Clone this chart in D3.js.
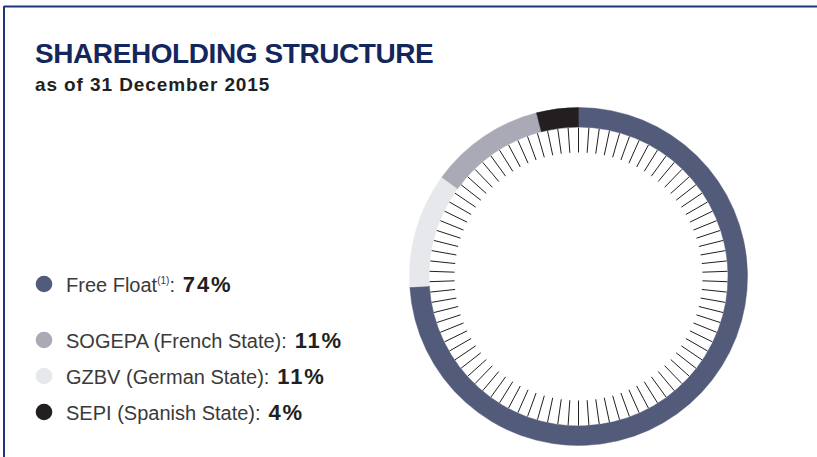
<!DOCTYPE html>
<html>
<head>
<meta charset="utf-8">
<script src="https://cdn.jsdelivr.net/npm/d3@7"></script>
<style>
  body { margin: 0; background: #fff; }
  svg { display: block; }
</style>
</head>
<body>
<div class="chartDiv"></div>
<script>

// ---- data ----
let names = ["Free Float", "SOGEPA (French State)", "GZBV (German State)", "SEPI (Spanish State)"];
let shares = [74, 11, 11, 4];
let notes = ["(1)", "", "", ""];
let colors = ["#535b7b", "#aaaab6", "#e6e8eb", "#231f20"];
// clockwise order on the ring, starting at 12 o'clock
let ringOrder = ["Free Float", "GZBV (German State)", "SOGEPA (French State)", "SEPI (Spanish State)"];
let tickCount = 90;

let width = 817, height = 457;
let cx = 578.5, cy = 276.5;
let outerR = 169, innerR = 149.5;
let tickOuter = 149, tickInner = 124;

let svg = d3.select(".chartDiv").append("svg")
    .attr("width", width)
    .attr("height", height);

// frame lines (top + left)
svg.append("line")
    .attr("x1", 4).attr("y1", 6.5).attr("x2", width).attr("y2", 6.5)
    .attr("stroke", "#1d3778").attr("stroke-width", 2);
svg.append("line")
    .attr("x1", 4).attr("y1", 6).attr("x2", 4).attr("y2", height)
    .attr("stroke", "#1d3778").attr("stroke-width", 2);

// title
svg.append("text")
    .attr("x", 35).attr("y", 63)
    .style("font-family", "'Liberation Sans', Arial, sans-serif")
    .style("font-weight", "bold")
    .style("font-size", "28px")
    .style("letter-spacing", "-0.42px")
    .attr("fill", "#14275c")
    .text("SHAREHOLDING STRUCTURE");

svg.append("text")
    .attr("x", 35).attr("y", 91)
    .style("font-family", "'Liberation Sans', Arial, sans-serif")
    .style("font-weight", "bold")
    .style("font-size", "19px")
    .style("letter-spacing", "0.9px")
    .attr("fill", "#231f20")
    .text("as of 31 December 2015");

// ---- ring ----
let color = d3.scaleOrdinal().domain(names).range(colors);
let shareOf = d3.scaleOrdinal().domain(names).range(shares);

let pie = d3.pie()
    .sort(null)
    .value(d => shareOf(d));

let arc = d3.arc().innerRadius(innerR).outerRadius(outerR);

let ring = svg.append("g")
    .attr("transform", "translate(" + cx + "," + cy + ")");

ring.selectAll("path.slice")
    .data(pie(ringOrder))
    .enter().append("path")
    .attr("class", "slice")
    .attr("d", arc)
    .attr("fill", d => color(d.data))
    .attr("stroke", d => color(d.data))
    .attr("stroke-width", 0.5);

// radial ticks inside the ring
let angle = d3.scaleLinear().domain([0, tickCount]).range([0, 2 * Math.PI]);
ring.selectAll("line.tick")
    .data(d3.range(tickCount))
    .enter().append("line")
    .attr("class", "tick")
    .attr("x1", d => tickInner * Math.sin(angle(d)))
    .attr("y1", d => -tickInner * Math.cos(angle(d)))
    .attr("x2", d => tickOuter * Math.sin(angle(d)))
    .attr("y2", d => -tickOuter * Math.cos(angle(d)))
    .attr("stroke", "#231f20")
    .attr("stroke-width", 1);

// ---- legend ----
let rowY = d3.scaleOrdinal().domain(names).range([284, 340, 376, 412]);

let legend = svg.append("g");
let rows = legend.selectAll("g.row")
    .data(names)
    .enter().append("g")
    .attr("class", "row")
    .attr("transform", d => "translate(0," + rowY(d) + ")");

rows.append("circle")
    .attr("cx", 44)
    .attr("cy", 0)
    .attr("r", 8.3)
    .attr("fill", d => color(d));

let label = rows.append("text")
    .attr("x", 66)
    .attr("y", 7.5)
    .style("font-family", "'Liberation Sans', Arial, sans-serif")
    .style("font-size", "20px")
    .attr("fill", "#3a3a3a");

label.append("tspan").text(d => d);
label.filter((d, i) => notes[i] !== "")
    .append("tspan")
    .attr("dy", -8)
    .style("font-size", "10px")
    .text((d, i) => notes[names.indexOf(d)]);
label.filter((d, i) => notes[i] !== "")
    .append("tspan")
    .attr("dy", 8)
    .text(":");
label.filter((d, i) => notes[i] === "")
    .append("tspan")
    .text(":");
label.append("tspan")
    .style("font-weight", "bold")
    .style("font-size", "22px")
    .style("letter-spacing", "1.8px")
    .attr("fill", "#231f20")
    .text(d => " " + shareOf(d) + "%");

</script>
</body>
</html>
